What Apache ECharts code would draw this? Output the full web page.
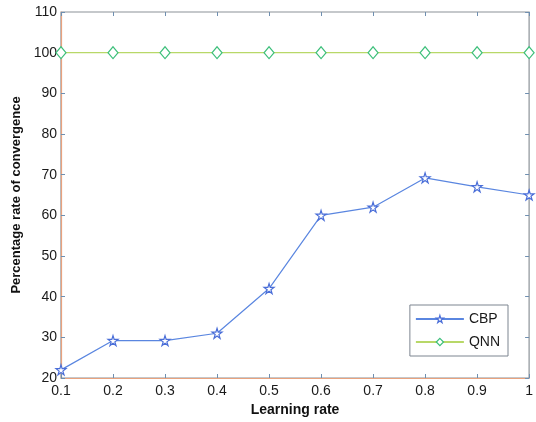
<!DOCTYPE html>
<html>
<head>
<meta charset="utf-8">
<script src="https://cdn.jsdelivr.net/npm/echarts@6/dist/echarts.min.js"></script>
<style>
  html, body { margin: 0; padding: 0; background: #fff; }
  #chart { width: 536px; height: 422px; }
</style>
</head>
<body>
<div id="chart"></div>
<script>
var rates = [0.1, 0.2, 0.3, 0.4, 0.5, 0.6, 0.7, 0.8, 0.9, 1.0];
var cbp = [22, 29.2, 29.2, 31, 42, 60, 62, 69.2, 67, 65];
var qnn = [100, 100, 100, 100, 100, 100, 100, 100, 100, 100];

var star = 'path://M50,0 L61,35 L98,35 L68,57 L79,91 L50,70 L21,91 L32,57 L2,35 L39,35 Z';
var font = 'Liberation Sans, Arial, sans-serif';

function pairs(xs, ys) {
  return xs.map(function (x, i) { return [x, ys[i]]; });
}

var chart = echarts.init(document.getElementById('chart'));
var tick = { show: true, inside: true, length: 4, lineStyle: { color: '#6f8fb0', width: 1 } };
var option = {
  backgroundColor: '#fff',
  animation: false,
  grid: { left: 61, right: 6, top: 12, bottom: 42, show: true, borderColor: '#8c9298', borderWidth: 1.2 },
  legend: {
    right: 28, bottom: 66,
    orient: 'vertical',
    itemWidth: 48, itemHeight: 9, itemGap: 9,
    padding: [7, 8, 7, 5],
    borderColor: '#7d8590', borderWidth: 1,
    textStyle: { fontFamily: font, fontSize: 14, color: '#1a1a1a' },
    data: [
      { name: 'CBP', itemStyle: { color: '#fff', borderColor: '#4a6ed8', borderWidth: 1.2 } },
      { name: 'QNN', itemStyle: { color: '#fff', borderColor: '#3cbf7a', borderWidth: 1.2 } }
    ]
  },
  xAxis: [{
    type: 'value', min: 0.1, max: 1, interval: 0.1,
    name: 'Learning rate', nameLocation: 'middle', nameGap: 25,
    nameTextStyle: { fontFamily: font, fontSize: 14, fontWeight: 'bold', color: '#111' },
    axisLine: { show: true, lineStyle: { color: '#e8a27e', width: 1.2 } },
    axisTick: tick,
    axisLabel: { fontFamily: font, fontSize: 14, color: '#1a1a1a', margin: 6,
      formatter: function (v) { return String(Math.round(v * 10) / 10); } },
    splitLine: { show: false }
  }, {
    type: 'value', min: 0.1, max: 1, interval: 0.1, position: 'top',
    axisLine: { show: false }, axisTick: tick, axisLabel: { show: false }, splitLine: { show: false }
  }],
  yAxis: [{
    type: 'value', min: 20, max: 110, interval: 10,
    name: 'Percentage rate of convergence', nameLocation: 'middle', nameGap: 31,
    nameTextStyle: { fontFamily: font, fontSize: 13, fontWeight: 'bold', color: '#111' },
    axisLine: { show: true, lineStyle: { color: '#e8a27e', width: 1.2 } },
    axisTick: tick,
    axisLabel: { fontFamily: font, fontSize: 14, color: '#1a1a1a', margin: 4 },
    splitLine: { show: false }
  }, {
    type: 'value', min: 20, max: 110, interval: 10, position: 'right',
    axisLine: { show: false }, axisTick: tick, axisLabel: { show: false }, splitLine: { show: false }
  }],
  series: [{
    name: 'CBP', type: 'line', data: pairs(rates, cbp),
    symbol: star, symbolSize: 10,
    lineStyle: { color: '#5a86e0', width: 1.2 },
    itemStyle: { color: '#fff', borderColor: '#4a6ed8', borderWidth: 1.2 }
  }, {
    name: 'QNN', type: 'line', data: pairs(rates, qnn),
    symbol: 'diamond', symbolSize: [10, 12],
    lineStyle: { color: '#b8d868', width: 1.2 },
    itemStyle: { color: '#fff', borderColor: '#3cbf7a', borderWidth: 1.2 }
  }]
};
chart.setOption(option);
</script>
</body>
</html>
